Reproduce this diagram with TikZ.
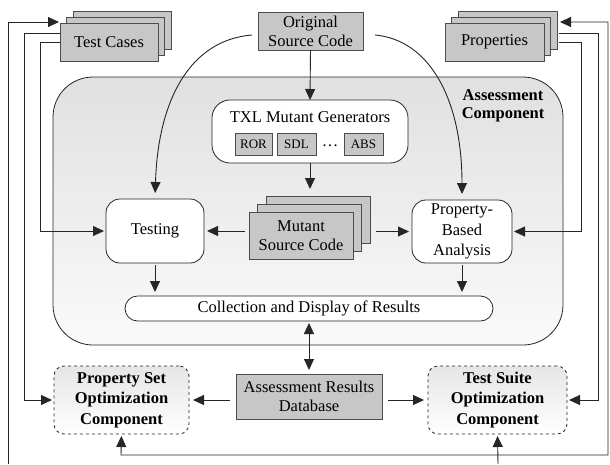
\documentclass[tikz,border=0pt]{standalone}
\usepackage{fontspec}
\setmainfont{Liberation Serif}
\usetikzlibrary{arrows.meta}
\begin{document}
\begin{tikzpicture}[x=1pt,y=-1pt,
  every node/.style={inner sep=0pt, outer sep=0pt, font=\fontsize{16.5}{20.5}\selectfont},
  graybox/.style={draw=black!70, fill=black!22, line width=0.8pt, align=center},
  roundbox/.style={draw=black!85, fill=white, line width=0.8pt, rounded corners=14pt, align=center},
  optbox/.style={draw=black!85, dashed, top color=black!10, bottom color=white, line width=0.8pt, rounded corners=10pt, align=center, font=\fontsize{16.5}{20.5}\selectfont\bfseries},
  smallbox/.style={draw=black!70, fill=black!22, line width=0.7pt, minimum height=22pt, font=\fontsize{13}{15}\selectfont},
  conn/.style={draw=black!85, line width=0.9pt},
  arr/.style={conn, -{Triangle[length=11pt,width=10pt]}},
  darr/.style={conn, {Triangle[length=11pt,width=10pt]}-{Triangle[length=11pt,width=10pt]}}
]
\useasboundingbox (0,0) rectangle (610,464);

% container
\path[draw=black!85, line width=0.8pt, top color=black!12, bottom color=black!2, rounded corners=40pt] (53,77) rectangle (563,345);
\node[font=\fontsize{16.5}{18.5}\selectfont\bfseries, align=center] (acl) at (503,106) {Assessment\\Component};

% Test Cases stack
\node[graybox, minimum width=98pt, minimum height=38pt] (tc2) at (122,30) {};
\node[graybox, minimum width=98pt, minimum height=38pt] (tc1) at (115.5,36) {};
\node[graybox, minimum width=98pt, minimum height=38pt] (tc) at (109,42) {Test Cases};

% Properties stack
\node[graybox, minimum width=99pt, minimum height=38pt] (pr2) at (507.5,30) {};
\node[graybox, minimum width=99pt, minimum height=38pt] (pr1) at (501,36) {};
\node[graybox, minimum width=99pt, minimum height=38pt] (pr) at (494.5,42) {Properties};

% Original source code
\node[graybox, minimum width=105pt, minimum height=38pt, font=\fontsize{16.5}{19}\selectfont] (osc) at (310.5,31) {Original\\Source Code};

% TXL
\node[roundbox, rounded corners=18pt, minimum width=196pt, minimum height=63pt] (txl) at (310,131.5) {};
\node (txlt) at (310,117) {TXL Mutant Generators};
\node[smallbox, minimum width=37pt] (ror) at (253.5,144) {ROR};
\node[smallbox, minimum width=39pt] (sdl) at (296.5,144) {SDL};
\node (dots) at (330,146) {\dots};
\node[smallbox, minimum width=39pt] (abs) at (363.5,144) {ABS};

% Mutant stack
\node[graybox, minimum width=104pt, minimum height=47pt] (mu2) at (318,219.5) {};
\node[graybox, minimum width=104pt, minimum height=47pt] (mu1) at (309.5,227.5) {};
\node[graybox, minimum width=104pt, minimum height=47pt, font=\fontsize{16.5}{19.5}\selectfont] (mu) at (301,235.5) {Mutant\\Source Code};

% Testing & PBA
\node[roundbox, minimum width=98pt, minimum height=64pt] (test) at (155,231) {Testing};
\node[roundbox, minimum width=100pt, minimum height=63pt] (pba) at (462,231.5) {Property-\\Based\\Analysis};

% Collection
\node[roundbox, rounded corners=12.5pt, minimum width=368pt, minimum height=25pt] (coll) at (309,308.5) {Collection and Display of Results};

% DB
\node[graybox, minimum width=146pt, minimum height=45pt, font=\fontsize{16.5}{19.5}\selectfont] (db) at (309,396.5) {Assessment Results\\Database};

% Optimization components
\node[optbox, minimum width=135pt, minimum height=68pt] (pso) at (121.5,400) {Property Set\\Optimization\\Component};
\node[optbox, minimum width=139pt, minimum height=68pt] (tso) at (497.5,400) {Test Suite\\Optimization\\Component};

% coordinates for external lines
\coordinate (bl) at (8,464);
\coordinate (br) at (498,464);
\coordinate (tcin) at (59,22);
\coordinate (prin) at (560,22);

% internal arrows
\draw[arr] (osc.south) -- (txl.north);
\draw[arr, shorten >=7pt] (txl.south) -- (mu2.north -| txl.south);
\draw[arr, shorten <=4pt, shorten >=3pt] (mu.west |- test.east) -- (test.east);
\draw[arr, shorten <=6pt, shorten >=3pt] (mu2.east |- pba.west) -- (pba.west);
\draw[arr, shorten <=2pt, shorten >=4pt] (test.south) -- (test.south |- coll.north);
\draw[arr, shorten <=2pt, shorten >=4pt] (pba.south |- test.south) -- (pba.south |- coll.north);
\draw[darr, shorten <=2pt, shorten >=4pt] (coll.south) -- (db.north);
\draw[arr, shorten <=6pt, shorten >=4pt] (db.west |- pso.east) -- (pso.east);
\draw[arr, shorten <=6pt, shorten >=4pt] (db.east |- tso.west) -- (tso.west);

% curves
\draw[arr, shorten >=6pt] (252,35) .. controls (190,40) and (158,100) .. (test.north);
\draw[arr, shorten >=6pt] (375,35) .. controls (430,40) and (462,100) .. (pba.north);

% left side lines
\draw[arr, shorten >=2pt] (tc.west) -- (40,42) -- (40,231) -- (test.west);
\draw[arr, shorten >=2pt] (tc.west |- 0,33) -- (24,33) -- (24,400) -- (pso.west);
\draw[arr] (bl) -- (8,22) -- (tcin);

% right side lines
\draw[arr, shorten >=2pt] (559,42) -- (581,42) -- (581,231.5) -- (pba.east);
\draw[arr, shorten >=2pt] (559,33) -- (598,33) -- (598,400) -- (tso.east);
\draw[darr, shorten >=0pt, shorten <=2pt] (pso.south) -- (121,455) -- (608,455) -- (608,22) -- (prin);
\draw[arr, shorten >=2pt] (br) -- (tso.south);
\end{tikzpicture}
\end{document}
